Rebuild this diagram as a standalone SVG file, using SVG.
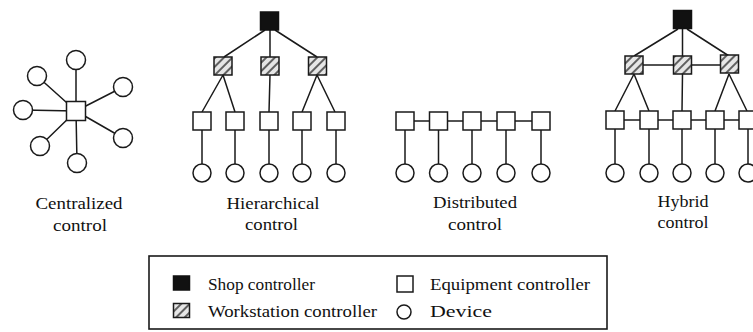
<svg xmlns="http://www.w3.org/2000/svg" width="753" height="332" viewBox="0 0 753 332">
<defs>
<pattern id="hatch" width="6" height="6" patternUnits="userSpaceOnUse" patternTransform="rotate(45)">
<rect x="0" y="0" width="6" height="6" fill="#e6e6e6"/>
<line x1="1" y1="0" x2="1" y2="6" stroke="#333" stroke-width="1.5"/>
</pattern>
</defs>
<style>
.ln{stroke:#1a1a1a;stroke-width:1.5;fill:none}
.eq{fill:#fff;stroke:#1a1a1a;stroke-width:1.5}
.dv{fill:#fff;stroke:#1a1a1a;stroke-width:1.5}
.ws{fill:url(#hatch);stroke:#1a1a1a;stroke-width:1.5}
.sh{fill:#111;stroke:#111;stroke-width:1.5}
.lbl{font-family:"Liberation Serif","Times New Roman",serif;font-size:16px;fill:#111;text-anchor:middle}
.leg{font-family:"Liberation Serif","Times New Roman",serif;font-size:16px;fill:#111}
</style>
<rect width="753" height="332" fill="#fff"/>

<g id="connectors">
<!-- centralized -->
<path class="ln" d="M76,111 L76,60 M76,111 L37,76 M76,111 L23,110 M76,111 L40,146 M76,111 L77,163 M76,111 L123,138 M76,111 L123,87"/>
<!-- hierarchical -->
<path class="ln" d="M265,30 L224,57 M270,30 L270,57 M275,30 L317,57"/>
<path class="ln" d="M223,75 L202,112 M223,75 L235,112 M270,75 L269,112 M317,75 L302,112 M317,75 L335,112"/>
<path class="ln" d="M202,121 L202,164 M235,121 L235,164 M269,121 L269,164 M302,121 L302,164 M336,121 L336,164"/>
<!-- distributed -->
<path class="ln" d="M405,121 L541,121"/>
<path class="ln" d="M405,121 L405,164 M438.5,121 L438.5,164 M472,121 L472,164 M506,121 L506,164 M541,121 L541,164"/>
<!-- hybrid -->
<path class="ln" d="M678,29 L634,56 M682.5,29 L682.5,56 M687,29 L729,56"/>
<path class="ln" d="M634,65 L729,65"/>
<path class="ln" d="M634,74 L615,111 M634,74 L649,111 M682.5,74 L682,111 M729,74 L715,111 M729,74 L747,111"/>
<path class="ln" d="M615,120 L753,120"/>
<path class="ln" d="M615,120 L615,164 M649,120 L649,164 M682,120 L682,164 M715,120 L715,164 M748,120 L748,164"/>
</g>

<g id="centralized">
<rect class="eq" x="66.5" y="101.5" width="19" height="19"/>
<circle class="dv" cx="76" cy="60" r="9.5"/>
<circle class="dv" cx="37" cy="76" r="9.5"/>
<circle class="dv" cx="23" cy="110" r="9.5"/>
<circle class="dv" cx="40" cy="146" r="9.5"/>
<circle class="dv" cx="77" cy="163" r="9.5"/>
<circle class="dv" cx="123" cy="138" r="9.5"/>
<circle class="dv" cx="123" cy="87" r="9.5"/>
<text class="lbl" x="79" y="209" textLength="87" lengthAdjust="spacingAndGlyphs">Centralized</text>
<text class="lbl" x="80" y="231" textLength="54" lengthAdjust="spacingAndGlyphs">control</text>
</g>

<g id="hierarchical">
<rect class="sh" x="260.5" y="12" width="18" height="18"/>
<rect class="ws" x="214" y="57" width="18" height="18"/>
<rect class="ws" x="261" y="57" width="18" height="18"/>
<rect class="ws" x="308.5" y="57" width="18" height="18"/>
<rect class="eq" x="193" y="112" width="18" height="18"/>
<rect class="eq" x="226" y="112" width="18" height="18"/>
<rect class="eq" x="260" y="112" width="18" height="18"/>
<rect class="eq" x="293" y="112" width="18" height="18"/>
<rect class="eq" x="327" y="112" width="18" height="18"/>
<circle class="dv" cx="202" cy="173" r="9"/>
<circle class="dv" cx="235" cy="173" r="9"/>
<circle class="dv" cx="269" cy="173" r="9"/>
<circle class="dv" cx="302" cy="173" r="9"/>
<circle class="dv" cx="336" cy="173" r="9"/>
<text class="lbl" x="273" y="209" textLength="93" lengthAdjust="spacingAndGlyphs">Hierarchical</text>
<text class="lbl" x="271.5" y="230" textLength="53" lengthAdjust="spacingAndGlyphs">control</text>
</g>

<g id="distributed">
<rect class="eq" x="396" y="112" width="18" height="18"/>
<rect class="eq" x="429.5" y="112" width="18" height="18"/>
<rect class="eq" x="463" y="112" width="18" height="18"/>
<rect class="eq" x="497" y="112" width="18" height="18"/>
<rect class="eq" x="532" y="112" width="18" height="18"/>
<circle class="dv" cx="405" cy="173" r="9"/>
<circle class="dv" cx="438.5" cy="173" r="9"/>
<circle class="dv" cx="472" cy="173" r="9"/>
<circle class="dv" cx="506" cy="173" r="9"/>
<circle class="dv" cx="541" cy="173" r="9"/>
<text class="lbl" x="475" y="208" textLength="84" lengthAdjust="spacingAndGlyphs">Distributed</text>
<text class="lbl" x="475" y="230" textLength="54" lengthAdjust="spacingAndGlyphs">control</text>
</g>

<g id="hybrid">
<rect class="sh" x="673.5" y="10.5" width="18" height="18"/>
<rect class="ws" x="625" y="56" width="18" height="18"/>
<rect class="ws" x="673.5" y="56" width="18" height="18"/>
<rect class="ws" x="720.5" y="55" width="18" height="18"/>
<rect class="eq" x="606" y="111" width="18" height="18"/>
<rect class="eq" x="640" y="111" width="18" height="18"/>
<rect class="eq" x="673" y="111" width="18" height="18"/>
<rect class="eq" x="706" y="111" width="18" height="18"/>
<rect class="eq" x="739" y="111" width="18" height="18"/>
<circle class="dv" cx="615" cy="173" r="9"/>
<circle class="dv" cx="649" cy="173" r="9"/>
<circle class="dv" cx="682" cy="173" r="9"/>
<circle class="dv" cx="715" cy="173" r="9"/>
<circle class="dv" cx="748" cy="173" r="9"/>
<text class="lbl" x="683" y="207" textLength="51" lengthAdjust="spacingAndGlyphs">Hybrid</text>
<text class="lbl" x="683" y="228" textLength="51" lengthAdjust="spacingAndGlyphs">control</text>
</g>

<g id="legend">
<rect x="149" y="256" width="458" height="73" fill="none" stroke="#1a1a1a" stroke-width="1.6"/>
<rect class="sh" x="173.5" y="276" width="16" height="14"/>
<text class="leg" x="208" y="290" textLength="107" lengthAdjust="spacingAndGlyphs">Shop controller</text>
<rect class="ws" x="173.5" y="303.5" width="16" height="14"/>
<text class="leg" x="208" y="317" textLength="169" lengthAdjust="spacingAndGlyphs">Workstation controller</text>
<rect class="eq" x="397" y="276" width="16" height="16"/>
<text class="leg" x="430" y="290" textLength="160" lengthAdjust="spacingAndGlyphs">Equipment controller</text>
<circle class="dv" cx="404" cy="312" r="7"/>
<text class="leg" x="430" y="317" textLength="62" lengthAdjust="spacingAndGlyphs">Device</text>
</g>
</svg>
